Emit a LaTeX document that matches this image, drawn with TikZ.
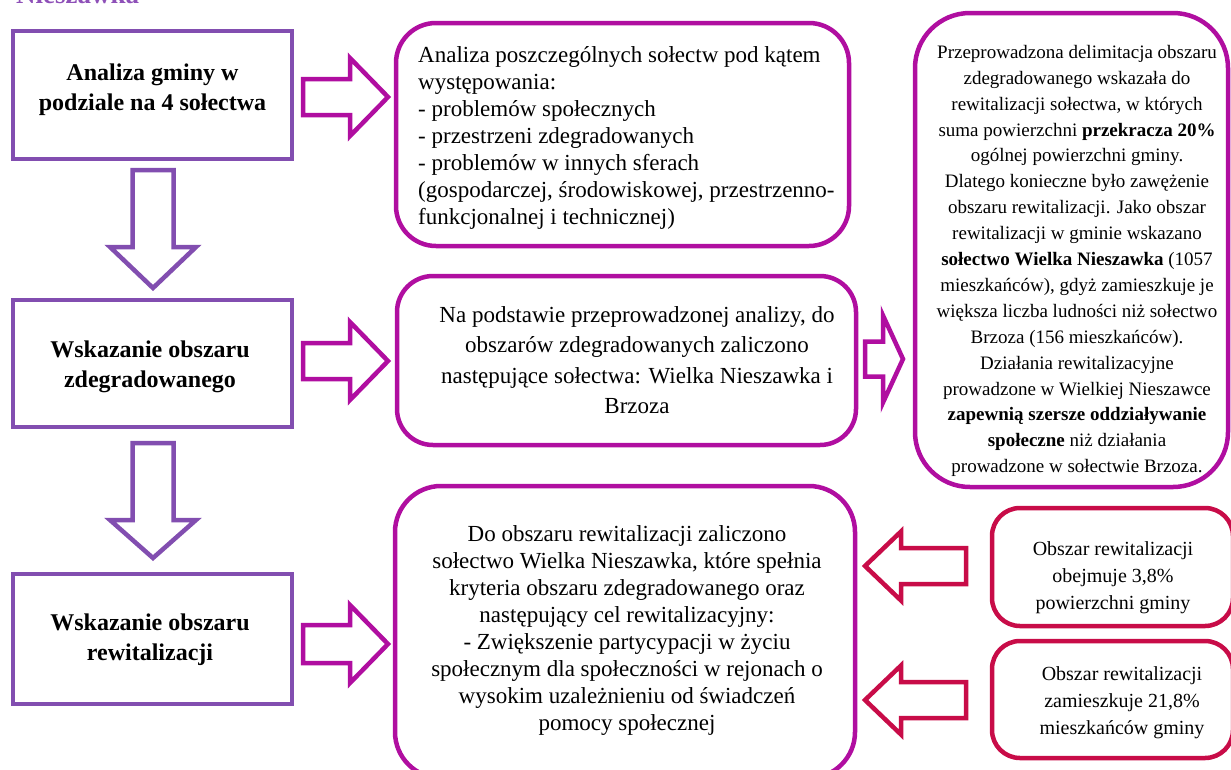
\documentclass[tikz,border=0pt]{standalone}
\usepackage{fontspec}
\setmainfont{Liberation Serif}
\definecolor{purp}{RGB}{130,78,176}
\definecolor{mag}{RGB}{176,14,160}
\definecolor{crim}{RGB}{200,12,72}
\definecolor{titlep}{RGB}{142,80,184}
\newcommand\hblock[7]{\draw[blockarrow,draw=#1] (#2,{#5-#6}) -- (#3,{#5-#6}) -- (#3,{#5-#7}) -- (#4,#5) -- (#3,{#5+#7}) -- (#3,{#5+#6}) -- (#2,{#5+#6}) -- cycle;}
\newcommand\vblock[7]{\draw[blockarrow,draw=#1] ({#5-#6},#2) -- ({#5-#6},#3) -- ({#5-#7},#3) -- (#5,#4) -- ({#5+#7},#3) -- ({#5+#6},#3) -- ({#5+#6},#2) -- cycle;}
\begin{document}
\begin{tikzpicture}[x=1pt,y=-1pt,
  pbox/.style={draw=purp,line width=4.5pt,inner sep=0pt,rectangle},
  mbox/.style={draw=mag,line width=4.5pt,inner sep=0pt,rectangle},
  cbox/.style={draw=crim,line width=4.5pt,inner sep=0pt,rectangle},
  blockarrow/.style={line width=4.5pt,line join=miter,fill=white},
  boldtxt/.style={font=\bfseries\fontsize{24}{30}\selectfont,align=center,inner sep=0pt},
  btxt/.style={font=\fontsize{23}{27}\selectfont,inner sep=0pt},
  ctxt/.style={font=\fontsize{19}{25.9}\selectfont,align=center,inner sep=0pt},
  dtxt/.style={font=\fontsize{20}{27}\selectfont,align=center,inner sep=0pt}
]
\useasboundingbox (0,0) rectangle (1231,769);

% title (cropped)
\node[font=\bfseries\fontsize{27}{30}\selectfont,text=titlep,anchor=base west,inner sep=0pt] (title) at (16,3) {Nieszawka};

% left column boxes
\node[pbox,minimum width=279pt,minimum height=128pt] (a1) at (152.5,95) {};
\node[pbox,minimum width=279pt,minimum height=127pt] (a2) at (152.5,363.5) {};
\node[pbox,minimum width=279pt,minimum height=130pt] (a3) at (152.5,639) {};
\node[boldtxt] (a1t) at (152.5,90) {Analiza gminy w\\podziale na 4 sołectwa};
\node[boldtxt] (a2t) at (150,367) {Wskazanie obszaru\\zdegradowanego};
\node[boldtxt] (a3t) at (150,640) {Wskazanie obszaru\\rewitalizacji};

% middle column boxes
\node[mbox,rounded corners=40pt,minimum width=453pt,minimum height=223pt] (b1) at (622.5,134.5) {};
\node[mbox,rounded corners=36pt,minimum width=459pt,minimum height=169pt] (b2) at (626.5,360.5) {};
\node[mbox,rounded corners=46pt,minimum width=460pt,minimum height=292pt] (b3) at (625,632) {};
\node[btxt,align=left,anchor=west] (b1t) at (418,138) {Analiza poszczególnych sołectw pod kątem\\występowania:\\- problemów społecznych\\- przestrzeni zdegradowanych\\- problemów w innych sferach\\(gospodarczej, środowiskowej, przestrzenno-\\funkcjonalnej i technicznej)};
\node[btxt,align=center,font=\fontsize{23}{30.5}\selectfont] (b2t) at (637,360) {Na podstawie przeprowadzonej analizy, do\\obszarów zdegradowanych zaliczono\\następujące sołectwa: Wielka Nieszawka i\\Brzoza};
\node[btxt,align=center] (b3t) at (627,630) {Do obszaru rewitalizacji zaliczono\\sołectwo Wielka Nieszawka, które spełnia\\kryteria obszaru zdegradowanego oraz\\następujący cel rewitalizacyjny:\\- Zwiększenie partycypacji w życiu\\społecznym dla społeczności w rejonach o\\wysokim uzależnieniu od świadczeń\\pomocy społecznej};

% right column
\node[mbox,rounded corners=55pt,minimum width=313pt,minimum height=474pt] (c1) at (1071.5,250) {};
\node[ctxt] (c1t) at (1077,261) {Przeprowadzona delimitacja obszaru\\zdegradowanego wskazała do\\rewitalizacji sołectwa, w których\\suma powierzchni \textbf{przekracza 20\%}\\ogólnej powierzchni gminy.\\Dlatego konieczne było zawężenie\\obszaru rewitalizacji. Jako obszar\\rewitalizacji w gminie wskazano\\\textbf{sołectwo Wielka Nieszawka} (1057\\mieszkańców), gdyż zamieszkuje je\\większa liczba ludności niż sołectwo\\Brzoza (156 mieszkańców).\\Działania rewitalizacyjne\\prowadzone w Wielkiej Nieszawce\\\textbf{zapewnią szersze oddziaływanie}\\\textbf{społeczne} niż działania\\prowadzone w sołectwie Brzoza.};

\node[cbox,rounded corners=28pt,minimum width=241pt,minimum height=118pt] (d1) at (1112.5,567) {};
\node[cbox,rounded corners=28pt,minimum width=241pt,minimum height=117pt] (d2) at (1112.5,699.5) {};
\node[dtxt] (d1t) at (1113,578) {Obszar rewitalizacji\\obejmuje 3,8\%\\powierzchni gminy};
\node[dtxt] (d2t) at (1122,703) {Obszar rewitalizacji\\zamieszkuje 21,8\%\\mieszkańców gminy};

% block arrows
\vblock{purp}{170}{247}{288}{153}{20.5}{43}
\vblock{purp}{443}{520}{558}{153}{20.5}{43}
\hblock{mag}{303}{350}{388}{97}{18}{39}
\hblock{mag}{303}{350}{388}{361}{18}{39}
\hblock{mag}{303}{350}{388}{644}{19}{39}
\hblock{mag}{865}{883}{903}{359}{17.5}{43.5}
\hblock{crim}{966}{901}{865}{566}{18}{34.5}
\hblock{crim}{966}{901}{865}{700}{18}{34.5}
\end{tikzpicture}
\end{document}
